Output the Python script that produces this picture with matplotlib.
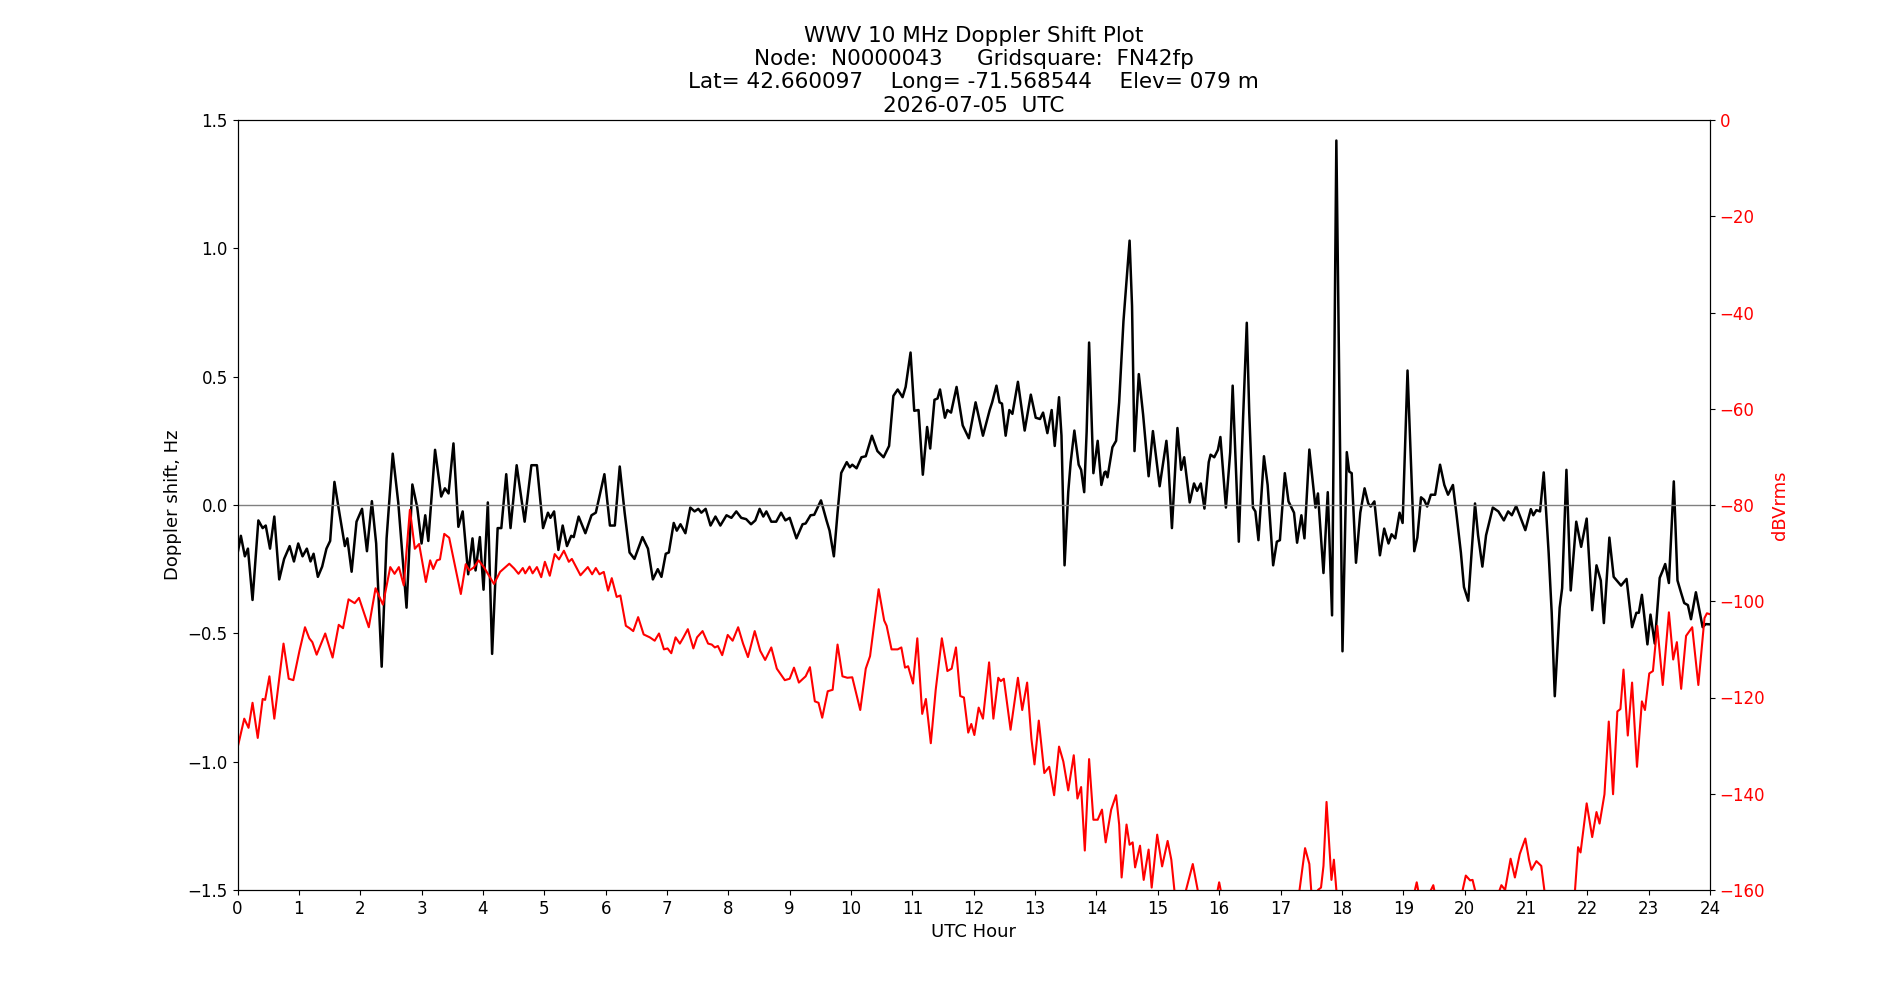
import matplotlib
matplotlib.use('Agg')
import matplotlib.pyplot as plt
import numpy as np

# Doppler shift (Hz), hour / value pairs
doppler_hours = [
    0.0, 0.055, 0.12, 0.17, 0.245, 0.34, 0.41, 0.46, 0.53, 0.60, 0.68, 0.76, 0.85, 0.92, 0.99,
    1.06, 1.13, 1.19, 1.24, 1.31, 1.38, 1.45, 1.51, 1.58, 1.66, 1.75, 1.79, 1.86, 1.94, 2.03,
    2.11, 2.19, 2.26, 2.35, 2.43, 2.53, 2.62, 2.755, 2.85, 2.93, 3.00, 3.06, 3.11, 3.22, 3.32,
    3.38, 3.44, 3.52, 3.60, 3.67, 3.76, 3.83, 3.88, 3.95, 4.01, 4.08, 4.15, 4.24, 4.30, 4.38,
    4.45, 4.55, 4.68, 4.79, 4.88, 4.98, 5.06, 5.10, 5.16, 5.23, 5.30, 5.37, 5.44, 5.48, 5.56,
    5.67, 5.77, 5.84, 5.98, 6.07, 6.15, 6.23, 6.31, 6.39, 6.47, 6.60, 6.69, 6.77, 6.85, 6.91,
    6.98, 7.03, 7.11, 7.16, 7.22, 7.30, 7.38, 7.45, 7.51, 7.56, 7.63, 7.71, 7.79, 7.87, 7.97,
    8.05, 8.13, 8.21, 8.29, 8.37, 8.44, 8.51, 8.57, 8.62, 8.70, 8.78, 8.86, 8.93, 9.00, 9.11,
    9.21, 9.26, 9.34, 9.40, 9.51, 9.60, 9.65, 9.72, 9.78, 9.84, 9.93, 9.98, 10.02, 10.09, 10.17,
    10.24, 10.34, 10.43, 10.53, 10.62, 10.69, 10.76, 10.84, 10.89, 10.97, 11.03, 11.10, 11.17,
    11.24, 11.29, 11.36, 11.41, 11.45, 11.53, 11.57, 11.63, 11.72, 11.82, 11.92, 12.03, 12.15,
    12.26, 12.30, 12.37, 12.42, 12.46, 12.52, 12.58, 12.63, 12.72, 12.83, 12.93, 13.01, 13.08,
    13.13, 13.20, 13.27, 13.32, 13.39, 13.43, 13.48, 13.54, 13.58, 13.64, 13.71, 13.75, 13.80,
    13.84, 13.88, 13.95, 14.02, 14.08, 14.13, 14.15, 14.18, 14.26, 14.32, 14.37, 14.44, 14.54,
    14.58, 14.62, 14.69, 14.76, 14.85, 14.92, 15.03, 15.14, 15.17, 15.23, 15.32, 15.38, 15.43,
    15.52, 15.59, 15.64, 15.70, 15.76, 15.83, 15.86, 15.92, 15.98, 16.02, 16.11, 16.18, 16.22,
    16.32, 16.39, 16.45, 16.49, 16.55, 16.59, 16.64, 16.73, 16.79, 16.88, 16.94, 16.99, 17.07,
    17.13, 17.17, 17.22, 17.27, 17.34, 17.39, 17.47, 17.53, 17.57, 17.61, 17.70, 17.77, 17.84,
    17.91, 18.01, 18.08, 18.12, 18.16, 18.23, 18.30, 18.37, 18.43, 18.47, 18.53, 18.62, 18.69,
    18.76, 18.81, 18.87, 18.94, 18.99, 19.07, 19.18, 19.23, 19.29, 19.34, 19.39, 19.45, 19.52,
    19.60, 19.67, 19.73, 19.81, 19.87, 19.94, 19.99, 20.06, 20.17, 20.22, 20.29, 20.35, 20.46,
    20.55, 20.64, 20.71, 20.77, 20.84, 20.99, 21.08, 21.12, 21.17, 21.23, 21.29, 21.37, 21.42,
    21.47, 21.55, 21.59, 21.66, 21.73, 21.82, 21.90, 21.99, 22.08, 22.15, 22.22, 22.27, 22.36,
    22.43, 22.50, 22.55, 22.64, 22.73, 22.80, 22.84, 22.89, 22.98, 23.03, 23.10, 23.18, 23.23,
    23.27, 23.33, 23.41, 23.47, 23.53, 23.58, 23.64, 23.69, 23.77, 23.88, 23.93, 24.00,
]
doppler_hz = [
    -0.19, -0.12, -0.20, -0.17, -0.37, -0.06, -0.09, -0.08, -0.17, -0.045, -0.29, -0.21, -0.16, -0.22, -0.15,
    -0.20, -0.17, -0.22, -0.19, -0.28, -0.24, -0.17, -0.14, 0.09, -0.03, -0.16, -0.13, -0.26, -0.065, -0.015,
    -0.18, 0.015, -0.15, -0.63, -0.13, 0.20, 0.01, -0.40, 0.08, -0.01, -0.15, -0.04, -0.14, 0.215, 0.033,
    0.065, 0.045, 0.24, -0.085, -0.025, -0.27, -0.13, -0.255, -0.125, -0.33, 0.01, -0.58, -0.09, -0.09, 0.12,
    -0.09, 0.155, -0.065, 0.155, 0.155, -0.09, -0.03, -0.05, -0.025, -0.175, -0.08, -0.16, -0.12, -0.125, -0.045,
    -0.11, -0.04, -0.03, 0.12, -0.08, -0.08, 0.15, -0.03, -0.185, -0.21, -0.125, -0.17, -0.29, -0.25, -0.28,
    -0.19, -0.185, -0.07, -0.10, -0.075, -0.11, -0.01, -0.025, -0.015, -0.03, -0.015, -0.08, -0.045, -0.08, -0.04,
    -0.05, -0.025, -0.05, -0.055, -0.075, -0.06, -0.015, -0.045, -0.025, -0.065, -0.065, -0.03, -0.06, -0.05, -0.13,
    -0.075, -0.072, -0.04, -0.038, 0.018, -0.06, -0.10, -0.20, -0.03, 0.125, 0.167, 0.147, 0.157, 0.143, 0.186,
    0.19, 0.27, 0.21, 0.186, 0.23, 0.425, 0.45, 0.42, 0.46, 0.594, 0.367, 0.37, 0.118,
    0.304, 0.22, 0.41, 0.415, 0.45, 0.34, 0.37, 0.36, 0.46, 0.31, 0.26, 0.40, 0.27,
    0.37, 0.40, 0.465, 0.40, 0.395, 0.27, 0.37, 0.355, 0.48, 0.29, 0.43, 0.34, 0.335,
    0.36, 0.28, 0.37, 0.23, 0.42, 0.27, -0.235, 0.05, 0.167, 0.29, 0.157, 0.137, 0.05,
    0.285, 0.633, 0.124, 0.25, 0.078, 0.127, 0.13, 0.108, 0.225, 0.25, 0.40, 0.716, 1.03,
    0.775, 0.21, 0.51, 0.353, 0.112, 0.288, 0.073, 0.25, 0.167, -0.09, 0.30, 0.137, 0.186,
    0.01, 0.084, 0.055, 0.084, -0.014, 0.167, 0.196, 0.186, 0.215, 0.265, -0.01, 0.206, 0.465,
    -0.143, 0.34, 0.71, 0.363, -0.01, -0.025, -0.137, 0.19, 0.078, -0.235, -0.143, -0.137, 0.124,
    0.014, -0.006, -0.03, -0.147, -0.04, -0.13, 0.216, 0.078, -0.01, 0.045, -0.265, 0.05, -0.43,
    1.42, -0.57, 0.206, 0.13, 0.124, -0.225, -0.03, 0.065, 0.006, -0.006, 0.014, -0.196, -0.092,
    -0.15, -0.114, -0.13, -0.03, -0.07, 0.524, -0.18, -0.127, 0.03, 0.02, -0.006, 0.04, 0.04,
    0.157, 0.078, 0.04, 0.078, -0.04, -0.186, -0.32, -0.373, 0.006, -0.118, -0.24, -0.118, -0.01,
    -0.025, -0.06, -0.025, -0.04, -0.004, -0.098, -0.016, -0.04, -0.02, -0.025, 0.127, -0.186, -0.42,
    -0.745, -0.40, -0.324, 0.137, -0.333, -0.065, -0.163, -0.053, -0.41, -0.235, -0.294, -0.46, -0.127,
    -0.28, -0.30, -0.314, -0.288, -0.476, -0.42, -0.42, -0.35, -0.543, -0.427, -0.54, -0.284, -0.255,
    -0.23, -0.304, 0.092, -0.294, -0.343, -0.382, -0.39, -0.445, -0.34, -0.476, -0.464, -0.465,
]

# Received signal level (dBVrms), hour / value pairs; values under -160 are off the axis
level_hours = [
    0.00, 0.11, 0.18, 0.245, 0.33, 0.41, 0.45, 0.52, 0.60, 0.68, 0.75, 0.835, 0.91, 1.01, 1.10,
    1.17, 1.22, 1.29, 1.43, 1.55, 1.65, 1.72, 1.81, 1.91, 1.98, 2.05, 2.14, 2.25, 2.37, 2.49,
    2.56, 2.63, 2.71, 2.81, 2.89, 2.96, 3.07, 3.14, 3.19, 3.25, 3.30, 3.37, 3.45, 3.64, 3.72,
    3.78, 3.85, 3.93, 4.02, 4.18, 4.28, 4.43, 4.51, 4.58, 4.65, 4.69, 4.76, 4.81, 4.88, 4.95,
    5.01, 5.09, 5.17, 5.24, 5.32, 5.40, 5.45, 5.59, 5.71, 5.78, 5.84, 5.90, 5.97, 6.04, 6.10,
    6.18, 6.24, 6.33, 6.39, 6.45, 6.53, 6.62, 6.72, 6.80, 6.87, 6.95, 7.01, 7.07, 7.14, 7.21,
    7.26, 7.34, 7.43, 7.49, 7.58, 7.67, 7.73, 7.78, 7.83, 7.90, 7.99, 8.07, 8.16, 8.24, 8.32,
    8.43, 8.52, 8.60, 8.70, 8.79, 8.92, 9.00, 9.07, 9.15, 9.26, 9.33, 9.41, 9.47, 9.53, 9.62,
    9.70, 9.78, 9.86, 9.94, 10.02, 10.15, 10.24, 10.31, 10.45, 10.54, 10.58, 10.66, 10.76, 10.82,
    10.88, 10.93, 11.01, 11.08, 11.16, 11.22, 11.30, 11.38, 11.48, 11.57, 11.64, 11.71, 11.78,
    11.84, 11.91, 11.96, 12.01, 12.08, 12.15, 12.25, 12.32, 12.40, 12.44, 12.49, 12.60, 12.72,
    12.79, 12.87, 12.94, 12.99, 13.06, 13.15, 13.23, 13.31, 13.39, 13.46, 13.54, 13.63, 13.69,
    13.75, 13.81, 13.88, 13.95, 14.02, 14.09, 14.15, 14.24, 14.32, 14.37, 14.41, 14.49, 14.54,
    14.59, 14.63, 14.71, 14.77, 14.85, 14.90, 14.99, 15.07, 15.16, 15.22, 15.27, 15.38, 15.46,
    15.57, 15.65, 15.78, 15.93, 16.00, 16.04, 16.20, 16.60, 17.00, 17.31, 17.40, 17.47, 17.50,
    17.56, 17.61, 17.66, 17.70, 17.75, 17.83, 17.87, 17.91, 18.00, 18.50, 19.10, 19.22, 19.30,
    19.49, 19.60, 19.90, 20.02, 20.09, 20.13, 20.17, 20.40, 20.60, 20.66, 20.75, 20.82, 20.90,
    20.99, 21.05, 21.09, 21.17, 21.25, 21.30, 21.50, 21.80, 21.85, 21.89, 21.99, 22.08, 22.15,
    22.20, 22.28, 22.35, 22.42, 22.49, 22.54, 22.59, 22.66, 22.73, 22.81, 22.89, 22.94, 23.01,
    23.07, 23.14, 23.23, 23.33, 23.40, 23.46, 23.53, 23.61, 23.71, 23.81, 23.91, 23.95, 24.00,
]
level_db = [
    -130.5, -124.4, -126.3, -121.1, -128.4, -120.3, -120.5, -115.6, -124.4, -116.1, -108.8, -116.1, -116.4, -110.3, -105.4,
    -107.7, -108.5, -111.1, -106.7, -111.7, -104.9, -105.6, -99.6, -100.4, -99.3, -102.0, -105.4, -97.3, -100.7, -92.9,
    -94.3, -92.9, -96.7, -81.0, -89.1, -88.1, -96.0, -91.5, -93.3, -91.5, -91.3, -86.0, -86.8, -98.5, -92.3,
    -93.6, -93.0, -91.5, -93.0, -96.4, -93.9, -92.2, -93.2, -94.3, -93.1, -94.2, -92.8, -94.2, -92.9, -95.0,
    -91.8, -94.7, -90.2, -91.3, -89.5, -91.8, -91.2, -94.6, -92.9, -94.4, -93.1, -94.4, -93.9, -97.8, -95.2,
    -99.1, -98.8, -105.1, -105.6, -106.2, -103.3, -106.9, -107.5, -108.2, -106.7, -110.0, -109.8, -110.8, -107.5, -108.8,
    -107.7, -105.8, -109.8, -107.5, -106.2, -108.8, -109.0, -109.6, -109.3, -111.2, -107.0, -108.2, -105.4, -108.8, -111.6,
    -106.2, -110.3, -112.2, -109.6, -114.0, -116.4, -116.1, -113.8, -116.9, -115.6, -113.7, -120.8, -121.1, -124.2, -118.7,
    -118.4, -109.0, -115.6, -115.9, -115.8, -122.6, -114.0, -111.4, -97.5, -104.0, -105.1, -110.0, -110.0, -109.6,
    -113.8, -113.5, -117.1, -107.7, -123.4, -120.3, -129.5, -118.4, -107.7, -114.5, -114.0, -109.6, -119.7,
    -120.0, -127.3, -125.5, -127.8, -122.1, -124.4, -112.7, -124.4, -115.9, -116.6, -116.1, -126.7, -115.9,
    -122.6, -116.9, -128.6, -133.9, -124.8, -135.7, -134.4, -140.3, -130.2, -133.3, -139.3, -132.0, -141.0,
    -138.6, -151.8, -132.8, -145.4, -145.4, -143.3, -150.1, -143.3, -140.3, -146.4, -157.4, -146.4, -150.6,
    -150.1, -155.3, -150.8, -157.9, -151.6, -159.5, -148.5, -155.1, -149.8, -153.7, -160.0, -168.0, -160.0,
    -154.6, -160.0, -168.0, -163.0, -158.4, -161.0, -170.0, -175.0, -170.0, -160.0, -151.3, -154.6, -160.0,
    -164.0, -160.0, -159.5, -155.0, -141.7, -157.9, -153.7, -160.0, -170.0, -172.0, -165.0, -158.4, -164.0,
    -159.0, -166.0, -164.0, -157.0, -158.0, -157.9, -160.0, -166.0, -159.0, -160.0, -153.5, -157.4, -152.5,
    -149.3, -153.7, -155.8, -154.0, -155.0, -160.0, -172.0, -160.0, -151.1, -152.2, -142.0, -149.0, -143.8,
    -146.2, -140.1, -125.0, -140.1, -122.9, -122.4, -114.2, -127.9, -116.9, -134.4, -120.8, -122.6, -115.0,
    -114.5, -105.1, -117.4, -102.3, -112.1, -108.5, -118.2, -107.2, -105.4, -117.4, -103.5, -102.5, -102.7,
]

title = ('WWV 10 MHz Doppler Shift Plot\n'
         'Node:  N0000043     Gridsquare:  FN42fp\n'
         'Lat= 42.660097    Long= -71.568544    Elev= 079 m\n'
         '2026-07-05  UTC')

fig, ax = plt.subplots(figsize=(19, 10), dpi=100)
ax.plot(doppler_hours, doppler_hz, color='black', linewidth=1.8)
ax.axhline(0, color='grey', linewidth=1)
ax.set_xlim(0, 24)
ax.set_ylim(-1.5, 1.5)
ax.set_xticks(range(0, 25))
ax.tick_params(labelsize=12)
ax.set_xlabel('UTC Hour', fontsize=13)
ax.set_ylabel('Doppler shift, Hz', fontsize=13)
ax.set_title(title, fontsize=15.5)

ax2 = ax.twinx()
ax2.plot(level_hours, level_db, color='red', linewidth=1.5)
ax2.set_ylim(-160, 0)
ax2.set_ylabel('dBVrms', color='red', fontsize=13)
ax2.tick_params(axis='y', labelcolor='red', labelsize=12)

plt.savefig('out.png', dpi=100)
